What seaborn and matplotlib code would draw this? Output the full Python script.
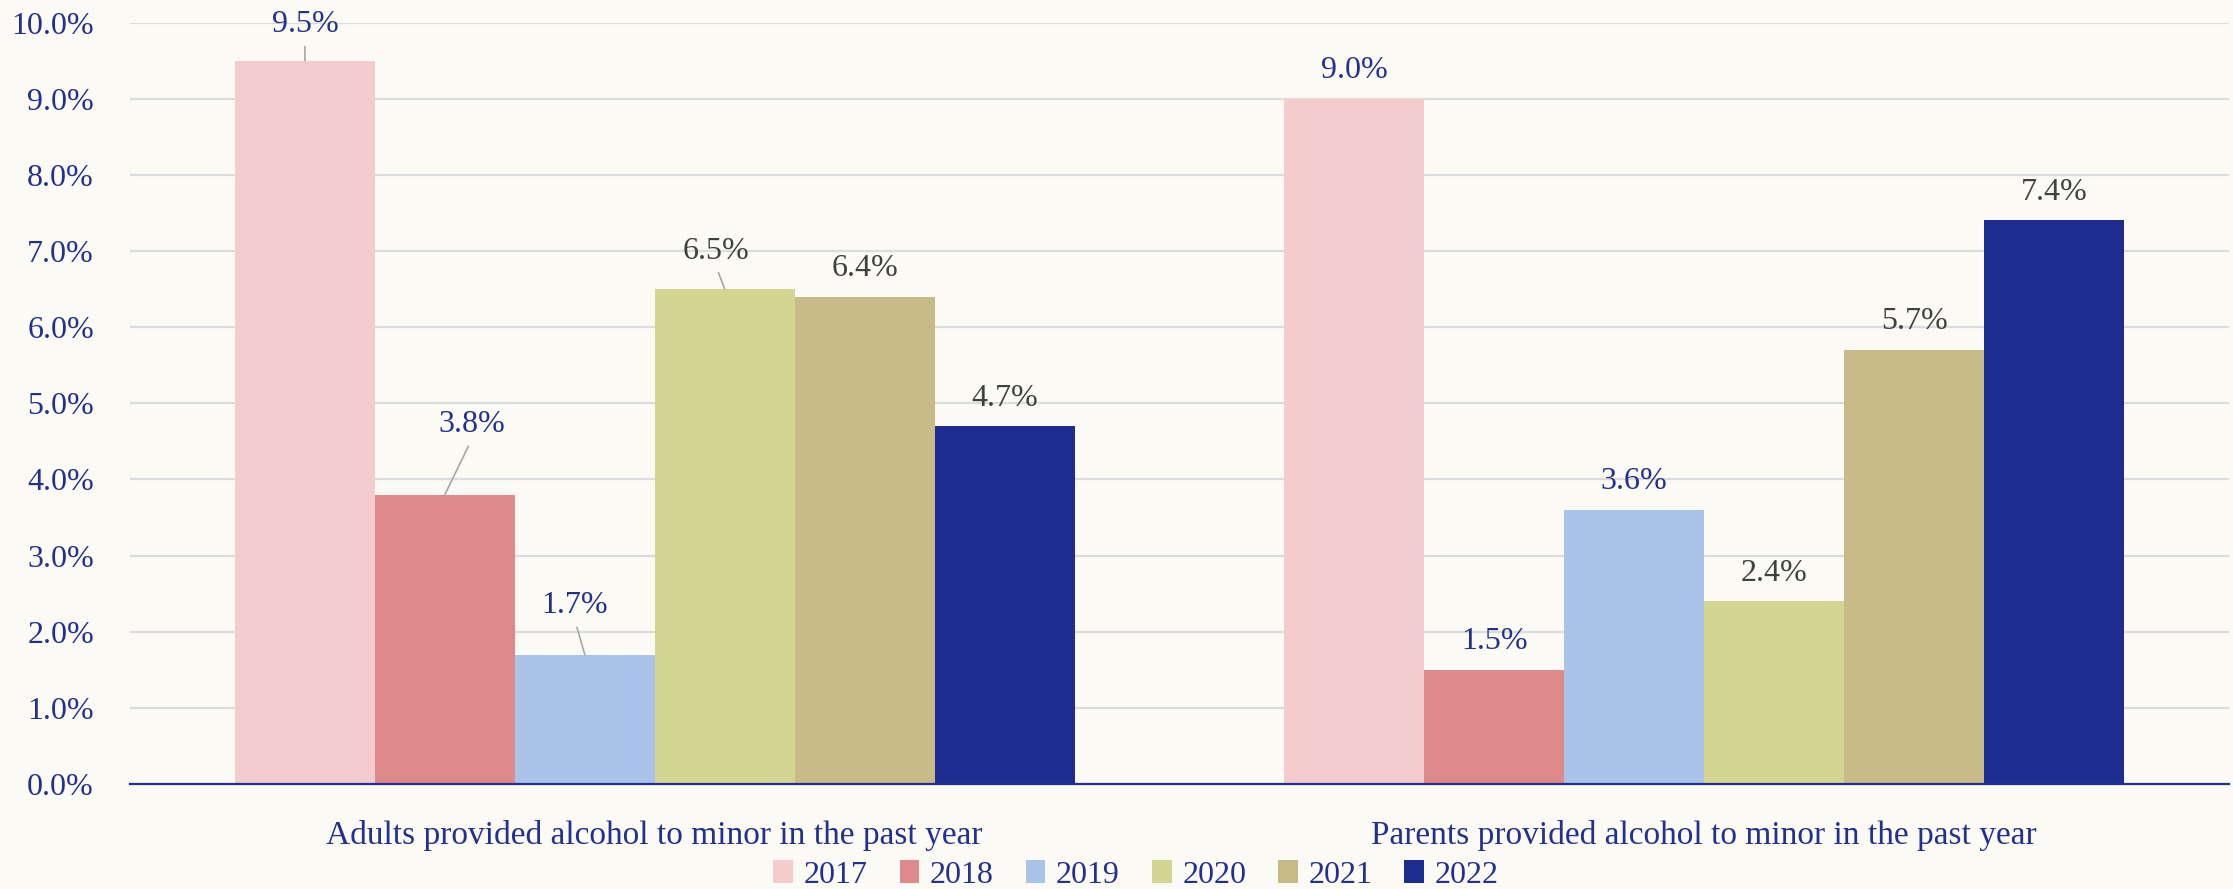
import matplotlib.pyplot as plt
import seaborn as sns
import pandas as pd

# data
categories = ["Adults provided alcohol to minor in the past year",
              "Parents provided alcohol to minor in the past year"]
years = ["2017", "2018", "2019", "2020", "2021", "2022"]
adults = [9.5, 3.8, 1.7, 6.5, 6.4, 4.7]
parents = [9.0, 1.5, 3.6, 2.4, 5.7, 7.4]
y_ticks = [0, 1, 2, 3, 4, 5, 6, 7, 8, 9, 10]

colors = ["#F4CCCE", "#DE8A8B", "#A9C4E8", "#D3D691", "#C9BB88", "#1F2C8F"]
BLUE = "#22308F"
GRAY = "#404040"
BG = "#FCFAF5"

df = pd.DataFrame({
    "category": [categories[0]] * len(years) + [categories[1]] * len(years),
    "year": years + years,
    "value": adults + parents,
})

sns.set_theme(style="white")
plt.rcParams["font.family"] = ["Liberation Serif", "DejaVu Serif"]

fig = plt.figure(figsize=(22.33, 8.89), dpi=100, facecolor=BG)
ax = fig.add_axes([130 / 2233, 1 - 784 / 889, 2099 / 2233, (784 - 22.5) / 889])
ax.set_facecolor(BG)

sns.barplot(data=df, x="category", y="value", hue="year", hue_order=years,
            palette=colors, saturation=1, width=0.8, gap=0,
            edgecolor="none", linewidth=0, ax=ax, zorder=2)

ax.set_ylim(0, 10)
ax.set_xlim(-0.5, 1.5)
ax.set_yticks(y_ticks)
ax.set_yticklabels([f"{v:.1f}%" for v in y_ticks])
ax.yaxis.grid(True, color="#DCDCDC", linewidth=1.6, zorder=0)
ax.set_axisbelow(True)
ax.set_xlabel("")
ax.set_ylabel("")
for s in ["top", "right", "left"]:
    ax.spines[s].set_visible(False)
ax.spines["bottom"].set_color(BLUE)
ax.spines["bottom"].set_linewidth(1.6)
ax.spines["bottom"].set_zorder(3)
ax.tick_params(axis="y", length=0, pad=26, labelsize=23, labelcolor=BLUE)
ax.tick_params(axis="x", length=0, pad=26, labelsize=24, labelcolor=BLUE)

# label offsets in pixels (dx, dy) for the ones that sit off-centre with a leader line
special = {(0, 0): (0, 36), (1, 0): (27, 70), (2, 0): (-10, 49), (3, 0): (-9, 38)}

for i, cont in enumerate(ax.containers):
    txt_color = BLUE if i < 3 else GRAY
    for j, bar in enumerate(cont):
        x = bar.get_x() + bar.get_width() / 2
        h = bar.get_height()
        if (i, j) in special:
            dx, dy = special[(i, j)]
            ax.annotate(f"{h:.1f}%", xy=(x, h), xytext=(dx, dy),
                        textcoords="offset pixels", ha="center", va="center",
                        fontsize=23, color=txt_color,
                        arrowprops=dict(arrowstyle="-", color="#A6A6A6", lw=1.2,
                                        relpos=(0.5, 0), shrinkA=3, shrinkB=0))
        else:
            ax.annotate(f"{h:.1f}%", xy=(x, h), xytext=(0, 28),
                        textcoords="offset pixels", ha="center", va="center",
                        fontsize=23, color=txt_color)

handles, labels = ax.get_legend_handles_labels()
ax.legend_.remove()
leg = fig.legend(handles, labels, loc="center", bbox_to_anchor=(1136 / 2233, 1 - 875 / 889),
                 ncol=6, frameon=False, fontsize=23, handlelength=0.62, handleheight=0.75,
                 handletextpad=0.33, columnspacing=1.0, borderaxespad=0, borderpad=0)
for t in leg.get_texts():
    t.set_color(BLUE)

fig.savefig("out.png", dpi=100, facecolor=BG)
